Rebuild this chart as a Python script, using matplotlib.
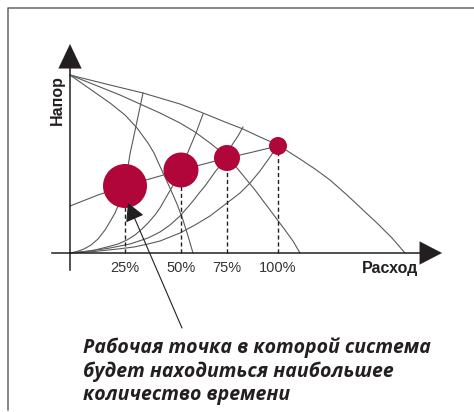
import os
import matplotlib
matplotlib.use("Agg")
import matplotlib.pyplot as plt
from matplotlib import font_manager
from matplotlib.ft2font import FT2Font

# ---- data (flow / head in diagram units, origin at the axes crossing) ----
flow_labels = ["25%", "50%", "75%", "100%"]
op_flow = [55, 111, 157, 208]
op_head = [67, 83, 95, 107]
op_radius = [22, 17.5, 13, 9]          # bubble radius ~ share of operating time

pump_a_q = [0, 20, 40, 73, 110, 133, 155, 173, 190, 208, 230, 245, 260, 277, 293, 308, 322, 335]
pump_a_h = [178, 173, 168, 160, 149, 140, 131, 124, 116, 108, 94, 84, 73, 58, 43, 29, 15, 0]
pump_b_q = [0, 25, 50, 70, 90, 110, 125, 140, 150, 157, 167, 176, 185, 200, 215, 223, 230]
pump_b_h = [178, 168, 158, 149, 140, 130, 121, 110, 102, 96, 85, 74, 63, 43, 23, 12, 0]
pump_c_q = [0, 20, 40, 55, 67, 78, 84, 88, 94, 100, 107, 113, 118, 123]
pump_c_h = [178, 164, 150, 138, 125, 110, 100, 91, 78, 65, 49, 33, 17, 0]

sys_25_q = [0, 7, 14, 21, 28, 35, 41, 45, 48, 53, 57, 60, 66, 73]
sys_25_h = [0, 1.5, 4, 8, 14, 23, 33, 40, 47, 62, 80, 99, 127, 160]
sys_50_q = [0, 12, 25, 37, 48, 57, 65, 72, 78, 85, 90, 98, 105, 111, 118, 126, 133]
sys_50_h = [0, 1, 3, 6, 9, 13, 18, 24, 30, 38, 45, 59, 71, 84, 101, 120, 139]
sys_75_q = [0, 20, 40, 60, 78, 90, 100, 110, 117, 123, 130, 135, 145, 157, 162, 168, 173]
sys_75_h = [0, 2, 5, 9, 15, 21, 28, 37, 45, 52, 61, 67, 81, 96, 108, 117, 126]
sys_100_q = [0, 24, 48, 64, 78, 90, 100, 110, 125, 140, 157, 170, 180, 190, 200, 208]
sys_100_h = [0, 1.5, 4, 6, 9, 12, 16, 20, 28, 37, 50, 60, 70, 82, 96, 108]

ctrl_q = [0, 28, 55, 83, 111, 134, 157, 183, 208]
ctrl_h = [47, 58, 67, 75, 83, 89, 95, 101, 107]

x_label = "Расход"
y_label = "Напор"
note = "Рабочая точка в которой система\nбудет находиться наибольшее\nколичество времени"
note_target = (58, 50)
note_tail = (112, -75)


def pick_note_font():
    """Find an installed bold italic face that covers Cyrillic."""
    for fam in ["Noto Sans", "Open Sans", "Lato", "Roboto", "Liberation Sans"]:
        for w in ["bold", "semibold"]:
            try:
                path = font_manager.findfont(
                    font_manager.FontProperties(family=fam, style="italic", weight=w),
                    fallback_to_default=False)
            except Exception:
                continue
            name = os.path.basename(path).lower()
            if "italic" not in name and "oblique" not in name:
                continue
            if "bold" not in name and "semi" not in name and "black" not in name:
                continue
            try:
                if ord("Р") not in FT2Font(path).get_charmap():
                    continue
            except Exception:
                continue
            return font_manager.FontProperties(fname=path)
    return font_manager.FontProperties(family="DejaVu Sans", style="italic", weight="bold")


# ---- drawing ----
RED = "#b0063a"
GRAY = "#5a5a5a"
DARK = "#231f20"

fig = plt.figure(figsize=(4.74, 4.12), dpi=100)
ax = fig.add_axes([0, 0, 1, 1])
ax.set_xlim(-70, 404)
ax.set_ylim(-159, 253)
ax.axis("off")

# frame
ax.plot([-62, -62, 404], [-157, 245, 245], color="#666666", lw=1.1, clip_on=False)

curves = [(pump_a_q, pump_a_h), (pump_b_q, pump_b_h), (pump_c_q, pump_c_h),
          (sys_25_q, sys_25_h), (sys_50_q, sys_50_h), (sys_75_q, sys_75_h),
          (sys_100_q, sys_100_h), (ctrl_q, ctrl_h)]
for q, h in curves:
    ax.plot(q, h, color=GRAY, lw=0.8, solid_joinstyle="round", zorder=2)

# dashed drops
for q, h in zip(op_flow, op_head):
    ax.plot([q, q], [0, h], color=DARK, lw=1.0, ls=(0, (3, 2)), zorder=2)

# operating points
sizes = [(2 * r * 0.72) ** 2 for r in op_radius]
ax.scatter(op_flow, op_head, s=sizes, color=RED, edgecolors="none", zorder=4)

# axes with arrows
ax.plot([-18, 352], [0, 0], color=DARK, lw=1.1, zorder=3)
ax.plot([0, 0], [-17, 188], color=DARK, lw=1.1, zorder=3)
ax.annotate("", xy=(372, 0), xytext=(340, 0),
            arrowprops=dict(arrowstyle="-|>,head_length=16,head_width=8.3",
                            mutation_scale=1, color=DARK, lw=0.1,
                            shrinkA=0, shrinkB=0), zorder=5)
ax.annotate("", xy=(0, 209), xytext=(0, 175),
            arrowprops=dict(arrowstyle="-|>,head_length=17.5,head_width=8.3",
                            mutation_scale=1, color=DARK, lw=0.1,
                            shrinkA=0, shrinkB=0), zorder=5)

# tick labels
for q, lab in zip(op_flow, flow_labels):
    ax.text(q, -14.5, lab, ha="center", va="center", fontsize=10.5,
            family="Liberation Sans", color="#333333")

ax.text(320, -15, x_label, ha="center", va="center", fontsize=11.5,
        fontweight="bold", family="Liberation Sans", color=DARK)
ax.text(-13, 153, y_label, ha="center", va="center", rotation=90,
        fontsize=11.5, fontweight="bold", family="Liberation Sans", color=DARK)

# callout
ax.annotate("", xy=note_target, xytext=note_tail,
            arrowprops=dict(arrowstyle="-|>,head_length=11,head_width=6",
                            mutation_scale=1, color=DARK, lw=0.8,
                            shrinkA=0, shrinkB=0), zorder=6)
fp = pick_note_font()
fp.set_size(14)
ax.text(13, -118.5, note, ha="left", va="center", fontproperties=fp,
        color=DARK, linespacing=1.2)

fig.savefig("out.png", dpi=100)
